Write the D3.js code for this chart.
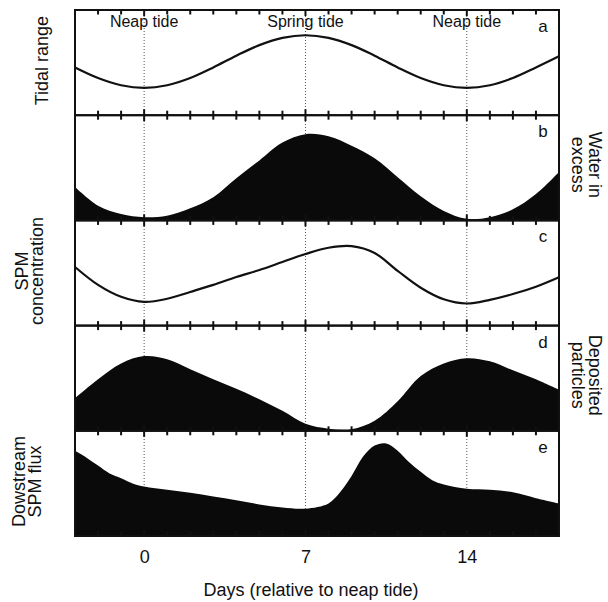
<!DOCTYPE html>
<html><head><meta charset="utf-8">
<script src="https://cdn.jsdelivr.net/npm/d3@7"></script>
<style>
body{margin:0;background:#fff}
text{font-family:"Liberation Sans",Arial,Helvetica,sans-serif;fill:#111}
</style>
</head><body><svg id="c" width="608" height="602"></svg>
<script>
// ---- data ----
const days = [-3,-2,-1,0,1,2,3,4,5,6,7,8,9,10,11,12,13,14,15,16,17,18];
const tidalRange  = [0.454,0.354,0.285,0.26,0.285,0.354,0.454,0.566,0.666,0.735,0.76,0.735,0.666,0.566,0.454,0.354,0.285,0.26,0.285,0.354,0.454,0.56];
const waterExcess = [0.317,0.14,0.06,0.03,0.045,0.115,0.22,0.40,0.57,0.74,0.82,0.80,0.71,0.59,0.41,0.23,0.09,0.015,0.03,0.105,0.25,0.46];
const spmConc     = [0.557,0.387,0.274,0.226,0.255,0.32,0.387,0.462,0.528,0.604,0.68,0.74,0.755,0.69,0.52,0.36,0.25,0.21,0.245,0.30,0.37,0.46];
const deposited   = [0.31,0.49,0.64,0.71,0.68,0.585,0.49,0.40,0.30,0.19,0.066,0.02,0.015,0.095,0.28,0.52,0.64,0.69,0.66,0.575,0.49,0.39];
const fluxDays    = [-3,-2.5,-2,-1.5,-1,-0.5,0,1,2,3,4,5,6,7,8,8.5,9,9.5,10,10.5,11,11.5,12,12.5,13,14,15,16,17,18];
const fluxValues  = [0.81,0.745,0.67,0.595,0.55,0.50,0.47,0.44,0.41,0.375,0.34,0.30,0.27,0.26,0.31,0.415,0.57,0.755,0.86,0.88,0.81,0.70,0.61,0.53,0.49,0.45,0.44,0.415,0.36,0.31];
const majorDays = [0,7,14];
const minorDays = [-2,-1,1,2,3,4,5,6,8,9,10,11,12,13,15,16,17];
const tideLabels = ["Neap tide","Spring tide","Neap tide"];
const panelLetters = ["a","b","c","d","e"];
const leftLabels  = [["Tidal range"],[],["SPM","concentration"],[],["Dowstream","SPM flux"]];
const rightLabels = [[],["Water in","excess"],[],["Deposited","particles"],[]];
const xTitle = "Days (relative to neap tide)";

// ---- layout ----
const svg = d3.select("#c");
const L = 75, R = 559, T = 10, B = 536;
const H = (B - T) / 5;
const x = d3.scaleLinear().domain([-3,18]).range([L,R]);
const curve = d3.curveCatmullRom.alpha(0.5);

const panels = [
  {xs: days, ys: tidalRange, filled: false},
  {xs: days, ys: waterExcess, filled: true},
  {xs: days, ys: spmConc, filled: false},
  {xs: days, ys: deposited, filled: true},
  {xs: fluxDays, ys: fluxValues, filled: true}
];

// dotted reference lines
svg.append("g").selectAll("line").data(majorDays).join("line")
  .attr("x1", d => x(d)).attr("x2", d => x(d))
  .attr("y1", T).attr("y2", B)
  .attr("stroke", "#555").attr("stroke-width", 1)
  .attr("stroke-dasharray", "1,2");

panels.forEach((p, i) => {
  const top = T + i * H, bot = top + H;
  const y = d3.scaleLinear().domain([0,1]).range([bot, top]).clamp(true);
  const pts = p.xs.map((d, k) => [d, p.ys[k]]);
  if (p.filled) {
    const area = d3.area().x(d => x(d[0])).y0(bot).y1(d => y(d[1])).curve(curve);
    svg.append("path").attr("d", area(pts)).attr("fill", "#0a0a0a");
  } else {
    const line = d3.line().x(d => x(d[0])).y(d => y(d[1])).curve(curve);
    svg.append("path").attr("d", line(pts)).attr("fill", "none")
      .attr("stroke", "#111").attr("stroke-width", 2.2);
  }
  // frame
  svg.append("rect").attr("x", L).attr("y", top).attr("width", R - L).attr("height", H)
    .attr("fill", "none").attr("stroke", "#111").attr("stroke-width", 2);

  // panel letter
  svg.append("text").attr("x", 543).attr("y", top + 22).attr("text-anchor", "middle")
    .style("font-size", "17px").text(panelLetters[i]);

  // left labels
  const cy = top + H / 2;
  const lb = leftLabels[i];
  if (lb.length) {
    const bases = lb.length === 1 ? [48] : (i === 2 ? [28, 43] : [25, 41]);
    lb.forEach((t, k) => {
      svg.append("text").attr("transform", `translate(${bases[k]},${cy - 2}) rotate(-90)`)
        .attr("text-anchor", "middle").style("font-size", "18px").text(t);
    });
  }
  const rb = rightLabels[i];
  if (rb.length) {
    const bases = [589, 572];
    rb.forEach((t, k) => {
      svg.append("text").attr("transform", `translate(${bases[k]},${cy - 3}) rotate(90)`)
        .attr("text-anchor", "middle").style("font-size", "18px").text(t);
    });
  }
});

// tick marks on every panel edge (crossing the separators)
const edges = d3.range(6).map(k => T + k * H);
edges.forEach((ey, k) => {
  const up = k === 0 ? 0 : 1;
  const down = k === 5 ? 0 : 1;
  const g = svg.append("g");
  minorDays.forEach(d => {
    g.append("line").attr("x1", x(d)).attr("x2", x(d))
      .attr("y1", ey - 4.5 * up).attr("y2", ey + 4.5 * down)
      .attr("stroke", "#111").attr("stroke-width", 2);
  });
  majorDays.forEach(d => {
    g.append("line").attr("x1", x(d)).attr("x2", x(d))
      .attr("y1", ey - 6 * up).attr("y2", ey + 6 * down)
      .attr("stroke", "#111").attr("stroke-width", 2);
  });
});

// tide labels
svg.append("g").selectAll("text").data(majorDays).join("text")
  .attr("x", d => x(d)).attr("y", T + 17).attr("text-anchor", "middle")
  .style("font-size", "16px").text((d, k) => tideLabels[k]);

// bottom tick labels
const gx = svg.append("g").attr("transform", `translate(0,${B})`)
  .call(d3.axisBottom(x).tickValues(majorDays).tickSize(0).tickPadding(14).tickFormat(d3.format("d")));
gx.select(".domain").remove();
gx.selectAll("text").style("font-size", "18px").style("font-family", '"Liberation Sans",Arial,sans-serif').attr("fill", "#111");

svg.append("text").attr("x", 311).attr("y", 596).attr("text-anchor", "middle")
  .style("font-size", "18px").text(xTitle);
</script>
</body></html>
